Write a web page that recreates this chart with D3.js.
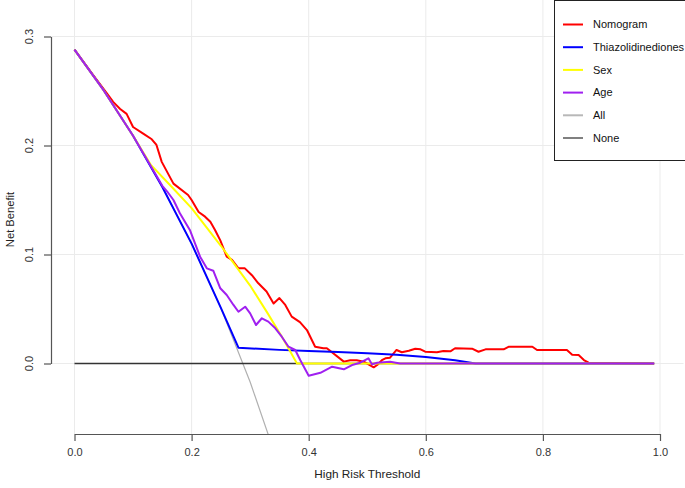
<!DOCTYPE html>
<html>
<head>
<meta charset="utf-8">
<script src="https://cdn.jsdelivr.net/npm/d3@7/dist/d3.min.js"></script>
<style>
  body { margin: 0; background: #fff; }
  svg { display: block; font-family: "Liberation Sans", Arial, sans-serif; }
</style>
</head>
<body>
<div id="chart"></div>
<script>
// thresholds / net benefit, one array per curve
var nomogram = [
  [0, 0.288], [0.03, 0.266], [0.055, 0.248], [0.066, 0.240], [0.078, 0.2335], [0.089, 0.229],
  [0.1, 0.217], [0.118, 0.2106], [0.132, 0.2057], [0.14, 0.2005], [0.149, 0.185],
  [0.169, 0.165], [0.194, 0.1546], [0.2, 0.150], [0.212, 0.139], [0.223, 0.1347],
  [0.232, 0.130], [0.24, 0.1225], [0.249, 0.113], [0.26, 0.098], [0.269, 0.095],
  [0.28, 0.0873], [0.291, 0.0873], [0.303, 0.081], [0.314, 0.0736], [0.328, 0.066],
  [0.34, 0.055], [0.35, 0.060], [0.36, 0.0537], [0.371, 0.043], [0.385, 0.038],
  [0.397, 0.0307], [0.411, 0.0154], [0.425, 0.014], [0.431, 0.014], [0.46, 0.0017],
  [0.471, 0.003], [0.482, 0.003], [0.494, 0.0017], [0.511, -0.0035], [0.517, -0.0014],
  [0.525, 0.003], [0.531, 0.0048], [0.539, 0.0053], [0.55, 0.0124], [0.559, 0.0103],
  [0.571, 0.0117], [0.582, 0.0136], [0.591, 0.013], [0.599, 0.0108], [0.619, 0.0103],
  [0.63, 0.0115], [0.642, 0.0112], [0.65, 0.014], [0.679, 0.0136], [0.69, 0.0108],
  [0.702, 0.013], [0.733, 0.013], [0.742, 0.0154], [0.782, 0.0154], [0.79, 0.0124],
  [0.841, 0.0124], [0.85, 0.0081], [0.861, 0.0078], [0.87, 0.0032], [0.878, 0.0007],
  [0.99, 0]
];
var thiazolidinediones = [
  [0, 0.288], [0.05, 0.2505], [0.1, 0.209], [0.15, 0.162], [0.2, 0.110], [0.25, 0.051],
  [0.28, 0.0145], [0.35, 0.0125], [0.4, 0.0115], [0.45, 0.0105], [0.5, 0.0095],
  [0.55, 0.008], [0.6, 0.006], [0.65, 0.003], [0.685, 0], [0.99, 0]
];
var sex = [
  [0, 0.288], [0.05, 0.2505], [0.1, 0.209], [0.13, 0.1825], [0.163, 0.1638], [0.2, 0.1425],
  [0.25, 0.108], [0.3, 0.0715], [0.33, 0.046], [0.357, 0.022], [0.38, 0], [0.99, 0]
];
var age = [
  [0, 0.288], [0.05, 0.2505], [0.1, 0.209], [0.15, 0.163], [0.158, 0.158], [0.169, 0.150],
  [0.18, 0.1378], [0.197, 0.1225], [0.2145, 0.098], [0.226, 0.0873], [0.237, 0.0851],
  [0.249, 0.069], [0.26, 0.0628], [0.2715, 0.0537], [0.28, 0.0475], [0.2915, 0.0521],
  [0.3, 0.046], [0.31, 0.0353], [0.32, 0.0415], [0.331, 0.0384], [0.343, 0.0323],
  [0.354, 0.0246], [0.3655, 0.0154], [0.377, 0.0124], [0.3855, 0.0032], [0.4, -0.0113],
  [0.42, -0.0085], [0.44, -0.0029], [0.46, -0.0053], [0.474, -0.0014], [0.488, 0.0007],
  [0.502, 0.0048], [0.508, -0.0007], [0.517, 0.0007], [0.539, 0.0017], [0.556, 0],
  [0.99, 0]
];
var treatAll = [
  [0, 0.288], [0.05, 0.2505], [0.1, 0.209], [0.15, 0.162], [0.2, 0.110], [0.25, 0.051],
  [0.3, -0.017], [0.35, -0.095]
];
var treatNone = [[0, 0], [0.99, 0]];

var legendNames = ["Nomogram", "Thiazolidinediones", "Sex", "Age", "All", "None"];
var xTicks = [0, 0.2, 0.4, 0.6, 0.8, 1.0];
var yTicks = [0, 0.1, 0.2, 0.3];

var width = 685, height = 488;
var plot = {left: 51, right: 683.5, top: 0, bottom: 434};

var x = d3.scaleLinear().domain([0, 1]).range([74.5, 660]);
var y = d3.scaleLinear().domain([0, 0.3]).range([363.5, 36.5]);

var svg = d3.select("#chart").append("svg")
    .attr("width", width)
    .attr("height", height);

svg.append("clipPath").attr("id", "clip")
  .append("rect")
    .attr("x", plot.left).attr("y", plot.top)
    .attr("width", plot.right - plot.left)
    .attr("height", plot.bottom - plot.top);

// grid
var grid = svg.append("g").attr("stroke", "#ebebeb").attr("stroke-width", 1);
grid.selectAll(".vg").data(xTicks).enter().append("line")
    .attr("x1", function(d) { return x(d); }).attr("x2", function(d) { return x(d); })
    .attr("y1", plot.top).attr("y2", plot.bottom);
grid.selectAll(".hg").data(yTicks).enter().append("line")
    .attr("y1", function(d) { return y(d); }).attr("y2", function(d) { return y(d); })
    .attr("x1", plot.left).attr("x2", plot.right);

var line = d3.line()
    .x(function(d) { return x(d[0]); })
    .y(function(d) { return y(d[1]); });

var curves = [
  {data: treatAll, color: "#b0b0b0", w: 1.2},
  {data: treatNone, color: "#333333", w: 1.3},
  {data: nomogram, color: "#ff0000", w: 2},
  {data: thiazolidinediones, color: "#0000ff", w: 2},
  {data: sex, color: "#ffff00", w: 2},
  {data: age, color: "#a020f0", w: 2}
];

var lines = svg.append("g").attr("clip-path", "url(#clip)");
lines.selectAll("path").data(curves).enter().append("path")
    .attr("d", function(d) { return line(d.data); })
    .attr("fill", "none")
    .attr("stroke", function(d) { return d.color; })
    .attr("stroke-width", function(d) { return d.w; })
    .attr("stroke-linejoin", "round");

// axes, R style
var xAxis = svg.append("g")
    .attr("transform", "translate(0," + plot.bottom + ")")
    .call(d3.axisBottom(x).tickValues(xTicks).tickFormat(d3.format(".1f"))
      .tickSize(7).tickSizeOuter(0).tickPadding(7));
var yAxis = svg.append("g")
    .attr("transform", "translate(" + plot.left + ",0)")
    .call(d3.axisLeft(y).tickValues(yTicks).tickFormat("")
      .tickSize(7).tickSizeOuter(0));

[xAxis, yAxis].forEach(function(a) {
  a.selectAll("path, line").attr("stroke", "#555").attr("stroke-width", 1.2);
  a.selectAll("text").attr("fill", "#333").style("font-size", "11px")
    .style("font-family", "Liberation Sans, Arial, sans-serif");
});

svg.append("g").selectAll("text").data(yTicks).enter().append("text")
    .attr("transform", function(d) { return "translate(33," + y(d) + ") rotate(-90)"; })
    .attr("text-anchor", "middle")
    .attr("fill", "#333")
    .style("font-size", "11px")
    .text(d3.format(".1f"));

svg.append("text")
    .attr("x", (plot.left + plot.right) / 2)
    .attr("y", 478)
    .attr("text-anchor", "middle")
    .attr("fill", "#222")
    .style("font-size", "11.8px")
    .text("High Risk Threshold");

svg.append("text")
    .attr("transform", "translate(13.5,219.5) rotate(-90)")
    .attr("text-anchor", "middle")
    .attr("fill", "#222")
    .style("font-size", "11.2px")
    .text("Net Benefit");

// legend
var legendColors = ["#ff0000", "#0000ff", "#ffff00", "#a020f0", "#b8b8b8", "#808080"];
var legend = svg.append("g");
legend.append("rect")
    .attr("x", 554.5).attr("y", 0.5)
    .attr("width", 140).attr("height", 160)
    .attr("fill", "#fff").attr("stroke", "#222").attr("stroke-width", 1);
var items = legend.selectAll(".item").data(legendNames).enter().append("g")
    .attr("transform", function(d, i) { return "translate(0," + (24.5 + i * 22.7) + ")"; });
items.append("line")
    .attr("x1", 563).attr("x2", 583)
    .attr("stroke", function(d, i) { return legendColors[i]; })
    .attr("stroke-width", 2);
items.append("text")
    .attr("x", 593).attr("dy", "0.35em")
    .attr("fill", "#111")
    .style("font-size", "11px")
    .text(function(d) { return d; });
</script>
</body>
</html>
